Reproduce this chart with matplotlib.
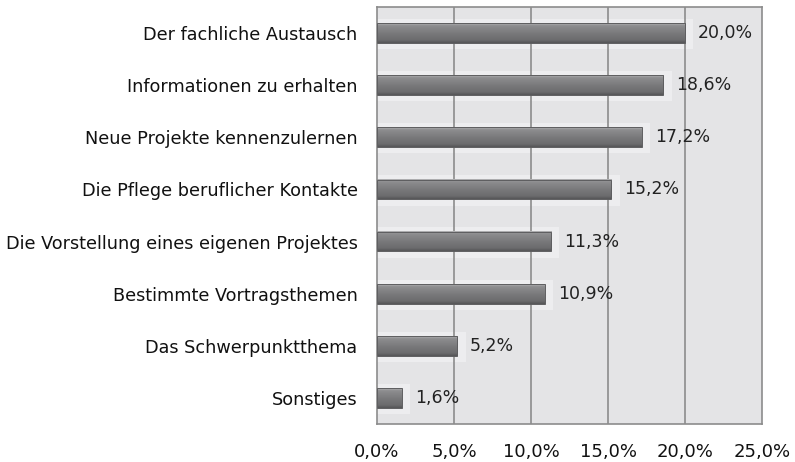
import numpy as np
import matplotlib.pyplot as plt
from matplotlib.patches import Rectangle
from matplotlib.colors import LinearSegmentedColormap

categories = [
    "Der fachliche Austausch",
    "Informationen zu erhalten",
    "Neue Projekte kennenzulernen",
    "Die Pflege beruflicher Kontakte",
    "Die Vorstellung eines eigenen Projektes",
    "Bestimmte Vortragsthemen",
    "Das Schwerpunktthema",
    "Sonstiges",
]
values = [20.0, 18.6, 17.2, 15.2, 11.3, 10.9, 5.2, 1.6]
xticks = [0, 5, 10, 15, 20, 25]

plt.rcParams['font.family'] = ['DejaVu Sans']

fig = plt.figure(figsize=(7.95, 4.62), dpi=100)
ax = fig.add_axes([377 / 795, 1 - 424 / 462, (762 - 377) / 795, (424 - 7) / 462])
ax.set_facecolor('#e4e4e6')

n = len(categories)
ax.set_xlim(0, 25)
ax.set_ylim(n - 0.5, -0.5)

for x in xticks[1:-1]:
    ax.axvline(x, color='#8c8c8c', lw=1.2, zorder=1)

bar_h = 0.38
cmap = LinearSegmentedColormap.from_list(
    'bevel', [(0.0, '#b4b4b6'), (0.12, '#8e8e90'), (0.5, '#7a7a7c'),
              (0.85, '#6c6c6e'), (1.0, '#565658')])
grad = np.linspace(0, 1, 64).reshape(-1, 1)

for i, v in enumerate(values):
    # soft halo behind each bar
    ax.add_patch(Rectangle((0, i - 0.5 * bar_h - 0.08), v + 0.55, bar_h + 0.2,
                           facecolor='#ededef', edgecolor='none', zorder=0.5))
    ax.imshow(grad, cmap=cmap, aspect='auto', interpolation='bilinear',
              extent=(0, v, i + bar_h / 2, i - bar_h / 2), zorder=2)
    ax.add_patch(Rectangle((0, i - bar_h / 2), v, bar_h, facecolor='none',
                           edgecolor='#5e5e60', lw=0.7, zorder=3))
    ax.text(v + 0.85, i, f"{v:.1f}%".replace('.', ','), va='center', ha='left',
            fontsize=12.5, color='#222222', zorder=4)

ax.set_xlim(0, 25)
ax.set_ylim(n - 0.5, -0.5)
ax.set_yticks(range(n))
ax.set_yticklabels(categories, fontsize=12.7, color='#111111')
ax.set_xticks(xticks)
ax.set_xticklabels([f"{x:.1f}%".replace('.', ',') for x in xticks],
                   fontsize=13, color='#111111')
ax.tick_params(axis='both', length=0)
ax.tick_params(axis='y', pad=14)
ax.tick_params(axis='x', pad=14)
for s in ax.spines.values():
    s.set_color('#8c8c8c')
    s.set_linewidth(1.2)

fig.savefig('out.png', dpi=100, facecolor='white')
